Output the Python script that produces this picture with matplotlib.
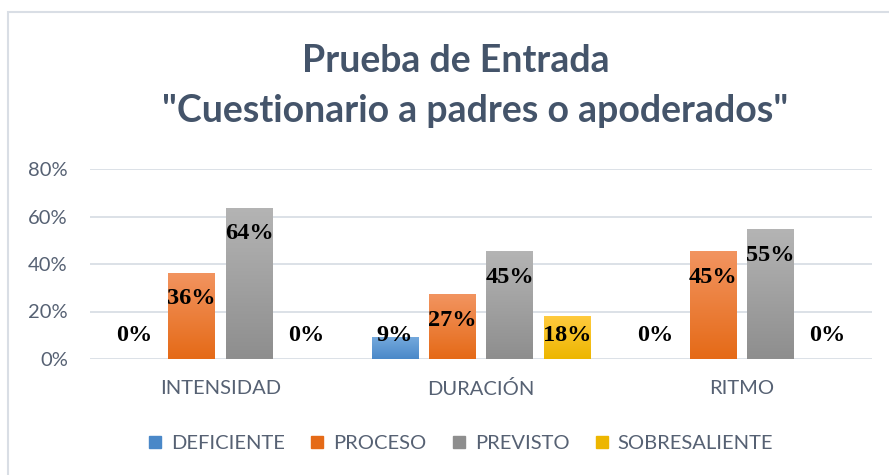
import numpy as np
import matplotlib
matplotlib.use("Agg")
import matplotlib.pyplot as plt
from matplotlib.colors import LinearSegmentedColormap
from matplotlib.lines import Line2D
from matplotlib.patches import Rectangle

# --- datos ---
categorias = ["INTENSIDAD", "DURACIÓN", "RITMO"]
series = ["DEFICIENTE", "PROCESO", "PREVISTO", "SOBRESALIENTE"]
deficiente = [0.0, 0.0909, 0.0]
proceso = [0.3636, 0.2727, 0.4545]
previsto = [0.6364, 0.4545, 0.5455]
sobresaliente = [0.0, 0.1818, 0.0]
valores = [deficiente, proceso, previsto, sobresaliente]
yticks = [0.0, 0.2, 0.4, 0.6, 0.8]

# degradado (claro arriba, oscuro abajo)
colores = [("#74A9DD", "#4A88C8"),
           ("#F29460", "#E56A17"),
           ("#B4B4B4", "#8E8E8E"),
           ("#FFCB40", "#EDB600")]
color_texto = "#44546A"
color_ejes = "#566173"

fig = plt.figure(figsize=(8.89, 4.75), dpi=100)
fig.patches.append(Rectangle((8 / 889, -0.5), 2, 0.5 + 1 - 12 / 475, transform=fig.transFigure,
                             fill=False, edgecolor="#D9DEE5", linewidth=1.5))

ax = fig.add_axes([90 / 889, 1 - 359 / 475, (872 - 90) / 889, (359 - 169) / 475])

x = np.arange(len(categorias))
ancho = 0.18
paso = 0.22

for i, (serie, vals) in enumerate(zip(series, valores)):
    pos = x + (i - 1.5) * paso
    barras = ax.bar(pos, vals, width=ancho, color=colores[i][1], label=serie, zorder=2)
    cmap = LinearSegmentedColormap.from_list(serie, [colores[i][1], colores[i][0]])
    for b, v in zip(barras, vals):
        if v > 0:
            x0, y0 = b.get_x(), b.get_y()
            img = ax.imshow(np.linspace(0, 1, 100).reshape(-1, 1), cmap=cmap,
                            origin="lower", aspect="auto", zorder=3,
                            extent=[x0, x0 + b.get_width(), y0, y0 + b.get_height()])
            img.set_clip_path(b)
        # etiqueta de datos "extremo interno"
        ty = max(v - 0.11, 0.10)
        ax.text(b.get_x() + b.get_width() / 2, ty, f"{v:.0%}", ha="center", va="center",
                fontsize=17.5, fontweight="bold", family="Liberation Serif",
                color="black", zorder=4)

ax.set_xlim(-0.5, 2.5)
ax.set_ylim(0, 0.8)
ax.set_yticks(yticks)
ax.set_yticklabels([f"{t:.0%}" for t in yticks])
ax.set_xticks(x)
ax.set_xticklabels(categorias)
ax.yaxis.grid(True, color="#D9DEE5", linewidth=1.3, zorder=0)
ax.set_axisbelow(True)
for s in ax.spines.values():
    s.set_visible(False)
ax.tick_params(axis="both", length=0, labelsize=14.5, labelcolor=color_ejes, labelfontfamily="Lato")
ax.tick_params(axis="y", pad=16)
ax.tick_params(axis="x", pad=15)

fig.text(0.513, 1 - 61 / 475, "Prueba de Entrada", ha="center", va="center",
         fontsize=27, fontweight="bold", family="Lato", color=color_texto)
fig.text(0.535, 1 - 111 / 475, "\"Cuestionario a padres o apoderados\"", ha="center", va="center",
         fontsize=27, fontweight="bold", family="Lato", color=color_texto)

handles = [Line2D([], [], marker="s", linestyle="none", markersize=8,
                  markerfacecolor=c[1], markeredgecolor=c[1]) for c in colores]
leg = fig.legend(handles, series, loc="center", bbox_to_anchor=(0.518, 1 - 443 / 475),
                 ncol=4, frameon=False, handlelength=0.7, handletextpad=0.45,
                 columnspacing=1.25, prop={"family": "Lato", "size": 14.5})
for t in leg.get_texts():
    t.set_color(color_ejes)

fig.savefig("out.png", dpi=100)
